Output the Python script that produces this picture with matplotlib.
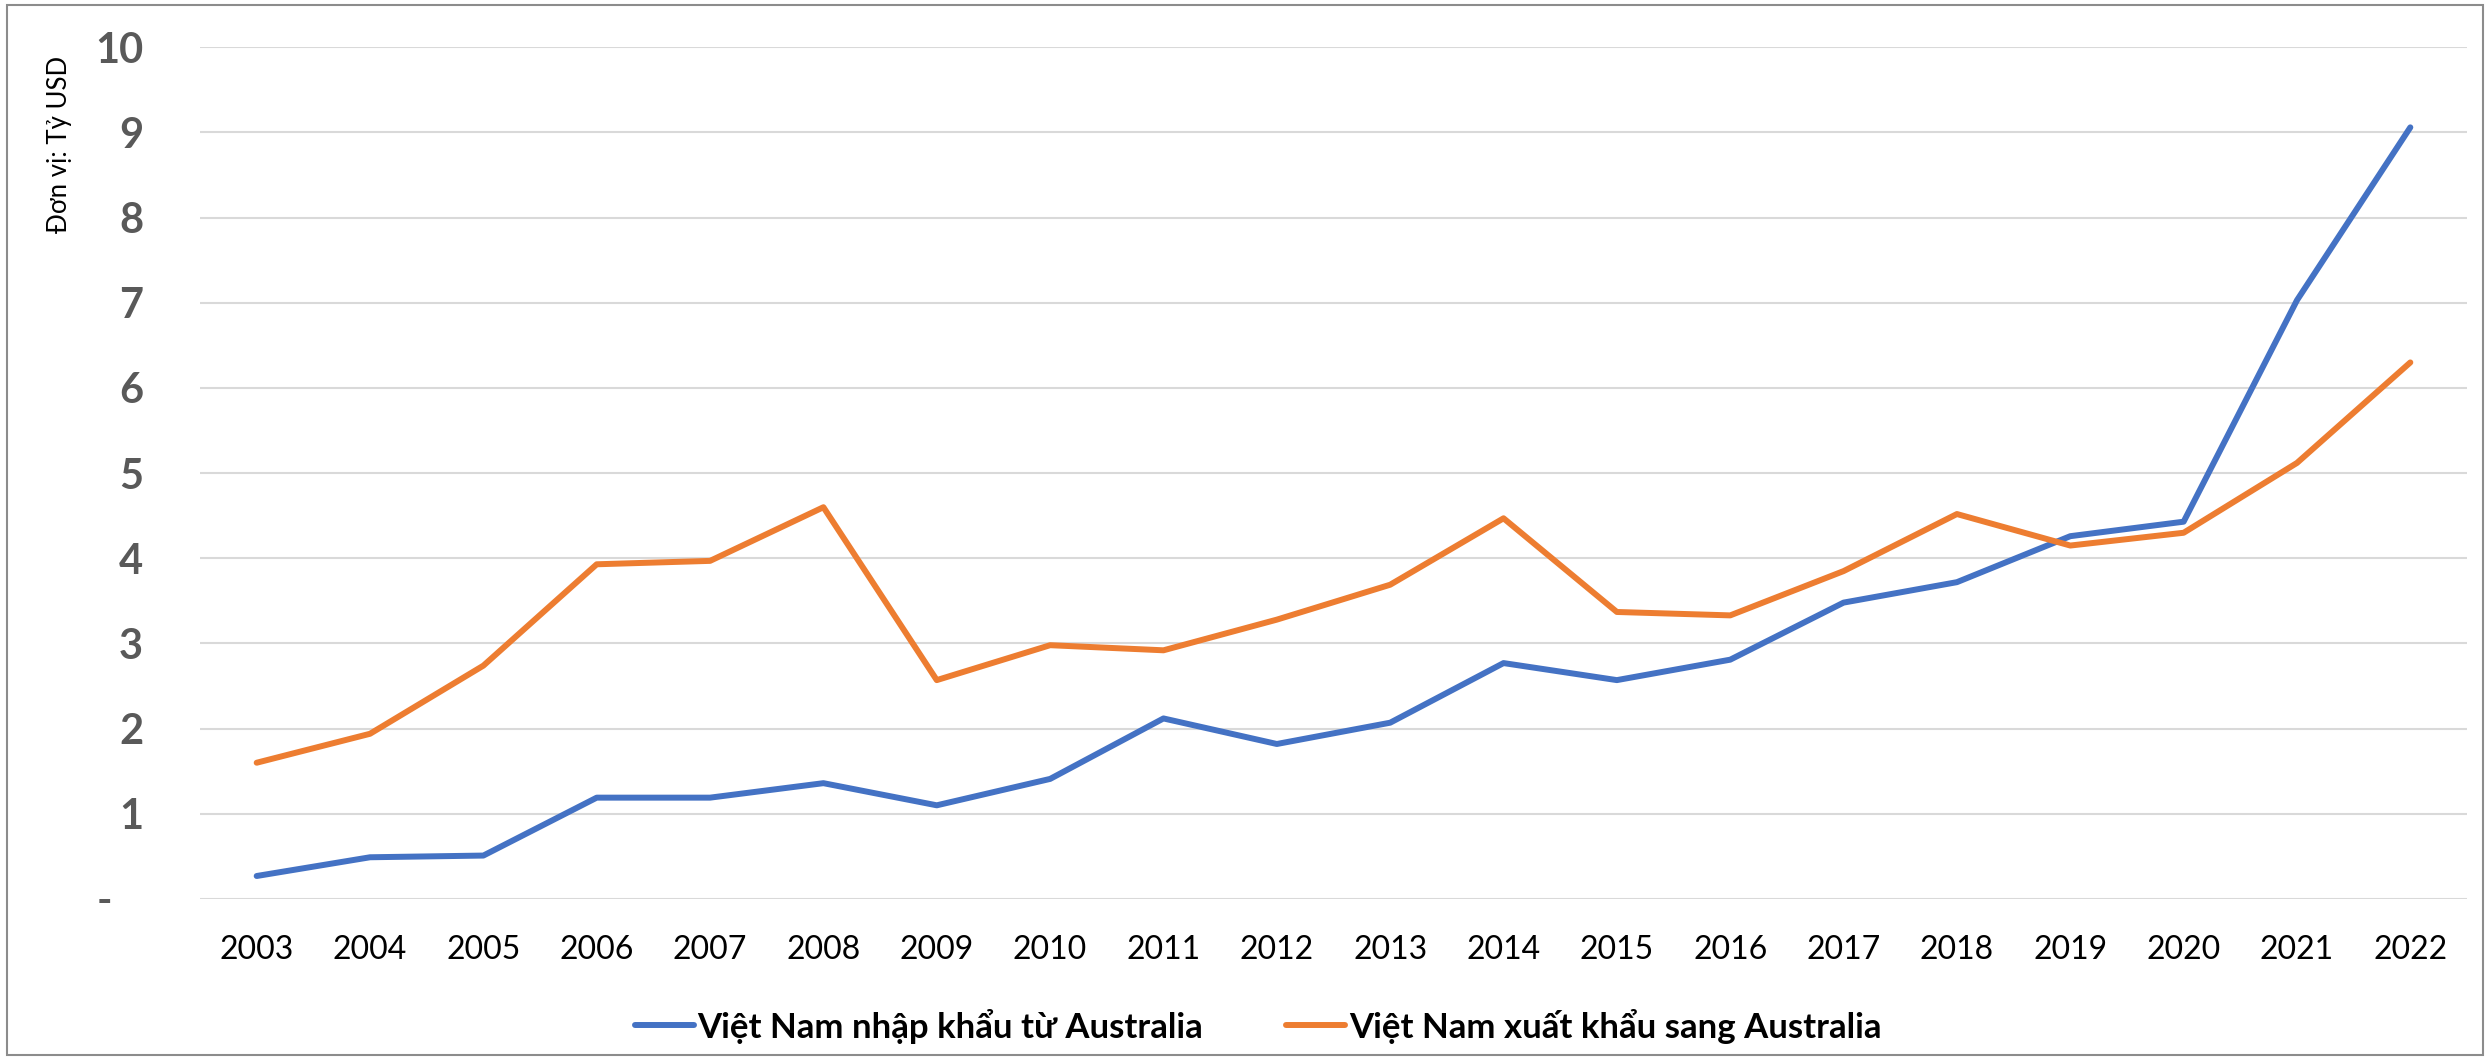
import matplotlib
matplotlib.use("Agg")
import matplotlib.pyplot as plt
from matplotlib.patches import Rectangle

years = [str(y) for y in range(2003, 2023)]
imports_from_au = [0.27, 0.49, 0.51, 1.19, 1.19, 1.36, 1.10, 1.41, 2.12, 1.82,
                   2.07, 2.77, 2.57, 2.81, 3.48, 3.72, 4.26, 4.43, 7.03, 9.06]
exports_to_au = [1.60, 1.94, 2.74, 3.93, 3.97, 4.60, 2.57, 2.98, 2.92, 3.28,
                 3.69, 4.47, 3.37, 3.33, 3.85, 4.52, 4.15, 4.30, 5.12, 6.30]
series_names = ["Việt Nam nhập khẩu từ Australia", "Việt Nam xuất khẩu sang Australia"]
y_ticks = list(range(0, 11))
y_tick_labels = ["-   "] + [str(v) for v in range(1, 11)]
y_label = "Đơn vị: Tỷ USD"

FAM = ["Lato", "Noto Sans", "DejaVu Sans"]
plt.rcParams["font.family"] = FAM

W, H = 2486, 1058
fig = plt.figure(figsize=(W / 100, H / 100), dpi=100)
ax = fig.add_axes([200 / W, 1 - 899 / H, 2267 / W, (899 - 47.3) / H])

x = list(range(len(years)))
ax.plot(x, imports_from_au, color="#4472C4", lw=4.3, solid_capstyle="round",
        solid_joinstyle="round", label=series_names[0], zorder=3)
ax.plot(x, exports_to_au, color="#ED7D31", lw=4.3, solid_capstyle="round",
        solid_joinstyle="round", label=series_names[1], zorder=3)

ax.set_xlim(-0.5, len(years) - 0.5)
ax.set_ylim(0, 10)
ax.set_xticks(x)
ax.set_xticklabels(years, fontsize=23, color="black")
ax.set_yticks(y_ticks)
ax.set_yticklabels(y_tick_labels, fontsize=30, fontweight="bold", color="#595959")
ax.tick_params(axis="x", length=0, pad=26)
ax.tick_params(axis="y", length=0, pad=41)
ax.grid(axis="y", color="#D9D9D9", lw=1.5, zorder=0)
ax.set_axisbelow(True)
for s in ax.spines.values():
    s.set_visible(False)

ax.set_ylabel(y_label, fontsize=18.5, color="black", va="center")
ax.yaxis.set_label_coords((60 - 200) / 2267, (899 - 144) / (899 - 47.3))

fig.legend(loc="center", bbox_to_anchor=(0.506, 1 - 1026 / H), ncol=2,
           frameon=False, prop={"size": 25, "weight": "bold"},
           handlelength=1.7, handletextpad=0.1, columnspacing=2.4)

fig.patches.append(Rectangle((7 / W, 3 / H), (W - 10) / W, (H - 8) / H,
                             transform=fig.transFigure, fill=False,
                             edgecolor="#8C8C8C", lw=1.5))

fig.savefig("out.png", dpi=100, facecolor="white")
